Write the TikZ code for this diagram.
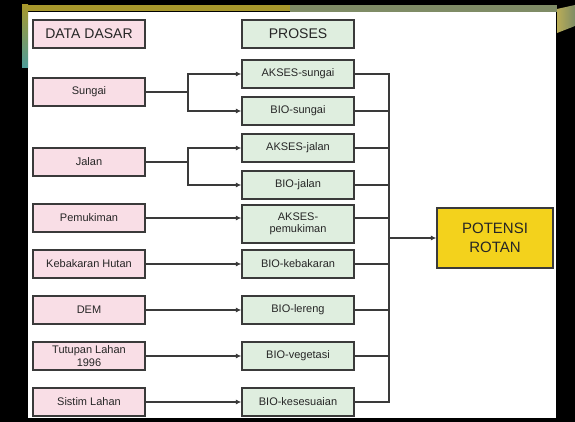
\documentclass[tikz,border=0pt]{standalone}
\usepackage{fontspec}
\setmainfont{Liberation Sans}
\usetikzlibrary{arrows.meta, positioning, calc}

\definecolor{datapink}{HTML}{F9DEE6}
\definecolor{prosgreen}{HTML}{DFEEDF}
\definecolor{rotangold}{HTML}{F3D21C}
\definecolor{framegold}{HTML}{A8982C}
\definecolor{frameolive}{HTML}{7F8C66}
\definecolor{frameteal}{HTML}{4E9C9A}
\definecolor{linegray}{HTML}{3A3A3A}

\begin{document}
\begin{tikzpicture}[x=1pt, y=-1pt, >={Latex[length=5.5pt, width=5pt]},
  databox/.style={draw=linegray, line width=1.2pt, fill=datapink,
    minimum width=112pt, minimum height=28pt, inner sep=1pt,
    font=\fontsize{11}{12.5}\selectfont, text=black!85, align=center},
  prosbox/.style={databox, fill=prosgreen},
  headbox/.style={font=\fontsize{14}{16}\selectfont},
  link/.style={draw=linegray, line width=1.2pt}]
  \useasboundingbox (0,0) rectangle (575,422);

  % Slide frame
  \fill[black] (0,0) rectangle (575,422);
  \fill[white] (28,12) rectangle (556,418);
  \fill[framegold] (22,5) rectangle (290,11);
  \fill[frameolive] (290,5) rectangle (557,12);
  \shade[top color=framegold, bottom color=frameteal] (22,5) rectangle (28,68);
  \shade[left color=framegold!80!white, right color=frameolive]
    (557,9) -- (575,5) -- (575,26) -- (557,33) -- cycle;

  % Headers
  \node[databox, headbox] (datadasar) at (89,34) {DATA DASAR};
  \node[prosbox, headbox] (proses) at (298,34) {PROSES};

  % Data dasar
  \node[databox] (sungai)    at (89,92)  {Sungai};
  \node[databox] (jalan)     at (89,162) {Jalan};
  \node[databox] (pemukiman) at (89,218) {Pemukiman};
  \node[databox] (kebakaran) at (89,264) {Kebakaran Hutan};
  \node[databox] (dem)       at (89,310) {DEM};
  \node[databox] (tutupan)   at (89,356) {Tutupan Lahan\\1996};
  \node[databox] (sistim)    at (89,402) {Sistim Lahan};

  % Proses
  \node[prosbox] (aksessungai) at (298,74)  {AKSES-sungai};
  \node[prosbox] (biosungai)   at (298,111) {BIO-sungai};
  \node[prosbox] (aksesjalan)  at (298,148) {AKSES-jalan};
  \node[prosbox] (biojalan)    at (298,185) {BIO-jalan};
  \node[prosbox, minimum height=38pt] (aksespemukiman) at (298,224)
    {AKSES-\\pemukiman};
  \node[prosbox] (biokebakaran) at (298,264) {BIO-kebakaran};
  \node[prosbox] (biolereng)    at (298,310) {BIO-lereng};
  \node[prosbox] (biovegetasi)  at (298,356) {BIO-vegetasi};
  \node[prosbox] (biokesesuaian) at (298,402) {BIO-kesesuaian};

  % Hasil
  \node[draw=linegray, line width=1.2pt, fill=rotangold, minimum width=116pt,
    minimum height=60pt, align=center, text=black!85,
    font=\fontsize{15}{19}\selectfont] (potensi) at (495,238) {POTENSI\\ROTAN};

  % Forks
  \coordinate (forksungai) at (188,92);
  \coordinate (forkjalan) at (188,162);
  \draw[link] (sungai.east) -- (forksungai);
  \draw[link, ->] (forksungai) |- (aksessungai.west);
  \draw[link, ->] (forksungai) |- (biosungai.west);
  \draw[link] (jalan.east) -- (forkjalan);
  \draw[link, ->] (forkjalan) |- (aksesjalan.west);
  \draw[link, ->] (forkjalan) |- (biojalan.west);

  % Straight inputs
  \draw[link, ->] (pemukiman.east) -- (pemukiman.east -| aksespemukiman.west);
  \draw[link, ->] (kebakaran.east) -- (biokebakaran.west);
  \draw[link, ->] (dem.east) -- (biolereng.west);
  \draw[link, ->] (tutupan.east) -- (biovegetasi.west);
  \draw[link, ->] (sistim.east) -- (biokesesuaian.west);

  % Collector
  \coordinate (bus) at (389,238);
  \draw[link] (aksessungai.east) -| (bus |- biokesesuaian) -- (biokesesuaian.east);
  \foreach \p in {biosungai, aksesjalan, biojalan, biokebakaran, biolereng, biovegetasi}
    \draw[link] (\p.east) -- (\p.east -| bus);
  \draw[link] (aksespemukiman.east |- pemukiman) -- (bus |- pemukiman);
  \draw[link, ->] (bus) -- (potensi.west);
\end{tikzpicture}
\end{document}
